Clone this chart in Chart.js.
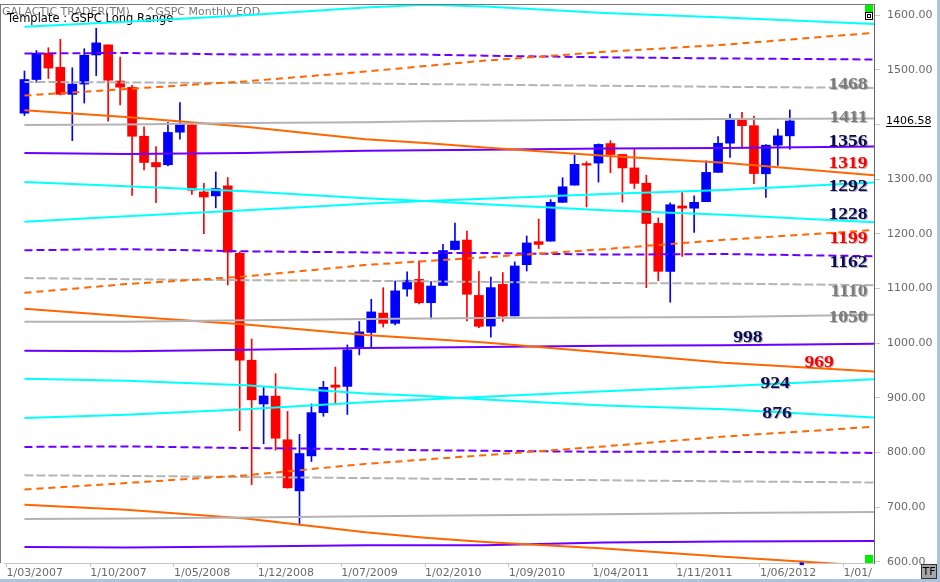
<!DOCTYPE html>
<html>
<head>
<meta charset="utf-8">
<title>^GSPC Monthly - Long Range</title>
<script src="https://cdn.jsdelivr.net/npm/chart.js@4/dist/chart.umd.min.js"></script>
<style>
  html, body { margin: 0; padding: 0; background: #ffffff; }
  canvas { display: block; }
</style>
</head>
<body>
<canvas id="gspcChart" width="940" height="582"></canvas>
<script>
// ^GSPC monthly candles, Apr 2007 .. Aug 2012
// x axis unit = months after 1 Mar 2007, candle sits mid-month
const firstCandleMonth = 1.5;

const opens = [
    1420.8, 1482.4, 1530.6, 1504.7, 1455.2, 1474.0, 1527.3, 1545.8, 1479.6,
    1468.0, 1378.6, 1330.5, 1326.4, 1386.0, 1399.6, 1276.7, 1269.4, 1287.8, 1164.2, 968.7, 888.6,
    903.0, 823.1, 729.6, 793.6, 872.7, 923.3, 920.8, 990.2, 1019.5, 1054.9, 1036.2, 1098.9,
    1116.6, 1073.9, 1105.4, 1171.2, 1188.6, 1087.3, 1031.1, 1107.5, 1049.7, 1143.5, 1185.7, 1186.6,
    1257.6, 1289.1, 1328.6, 1329.5, 1365.2, 1345.2, 1320.6, 1292.6, 1219.1, 1131.2, 1251.0, 1246.9,
    1258.9, 1312.5, 1365.9, 1408.5, 1397.9, 1309.9, 1362.3, 1379.3
];
const highs = [
    1498.0, 1535.6, 1540.6, 1555.9, 1503.9, 1538.7, 1576.1, 1545.8, 1523.6,
    1471.8, 1396.0, 1359.7, 1404.1, 1440.2, 1404.1, 1292.2, 1313.2, 1303.0, 1167.0, 1007.5, 918.9,
    943.9, 875.0, 833.0, 888.7, 930.2, 956.2, 996.7, 1039.5, 1080.2, 1101.4, 1113.7, 1130.4,
    1150.5, 1112.4, 1180.7, 1219.8, 1205.1, 1131.2, 1121.0, 1129.2, 1148.7, 1196.1, 1227.1, 1262.6,
    1302.7, 1344.1, 1332.3, 1364.6, 1370.6, 1345.2, 1356.5, 1307.4, 1229.3, 1256.6, 1277.6, 1269.4,
    1333.5, 1378.0, 1419.2, 1422.4, 1415.3, 1363.5, 1391.7, 1426.7
];
const lows = [
    1416.4, 1476.7, 1484.2, 1454.3, 1370.6, 1439.3, 1489.6, 1406.1, 1435.7,
    1270.1, 1316.8, 1257.0, 1324.4, 1373.1, 1272.0, 1200.4, 1247.5, 1106.4, 839.8, 741.0, 815.7,
    804.2, 734.5, 666.8, 783.3, 866.1, 888.9, 869.3, 978.5, 992.0, 1029.4, 1033.4, 1085.9,
    1071.6, 1044.5, 1105.4, 1170.7, 1040.8, 1028.3, 1010.9, 1039.7, 1049.7, 1131.9, 1173.0, 1186.6,
    1257.6, 1289.1, 1249.1, 1294.7, 1311.8, 1258.1, 1282.9, 1101.5, 1114.2, 1074.8, 1158.7, 1202.4,
    1258.9, 1312.5, 1340.0, 1357.4, 1292.0, 1266.7, 1325.4, 1354.7
];
const closes = [
    1482.4, 1530.6, 1503.4, 1455.3, 1474.0, 1526.8, 1549.4, 1481.1, 1468.4,
    1378.6, 1330.6, 1322.7, 1385.6, 1400.4, 1280.0, 1267.4, 1282.8, 1166.4, 968.8, 896.2, 903.3,
    825.9, 735.1, 797.9, 872.8, 919.1, 919.3, 987.5, 1020.6, 1057.1, 1036.2, 1095.6, 1115.1,
    1073.9, 1104.5, 1169.4, 1186.7, 1089.4, 1030.7, 1101.6, 1049.3, 1141.2, 1183.3, 1180.6, 1257.6,
    1286.1, 1327.2, 1325.8, 1363.6, 1345.2, 1320.6, 1292.3, 1218.9, 1131.4, 1253.3, 1247.0, 1257.6,
    1312.4, 1365.7, 1408.5, 1397.9, 1310.3, 1362.2, 1379.3, 1406.58
];
const lastPrice = 1406.58;

// long range levels, read at these months
const levelMonths = [1.5, 10, 20, 30, 35, 40, 50, 60, 72.6];

const cyanTop        = [1579, 1588, 1600, 1614, 1619, 1616, 1604, 1596, 1584];
const orangeDashTop  = [1453, 1465, 1479, 1497, 1507, 1517, 1533, 1546, 1568];
const purpleDashTop  = [1530, 1531, 1528, 1528, 1528, 1526, 1523, 1521, 1519];
const grayDashTop    = [1478, 1477, 1476, 1475, 1474, 1473, 1471, 1469, 1467];
const grayTop        = [1399, 1400, 1403, 1404, 1406, 1407, 1409, 1410, 1411];
const orangeTop      = [1426, 1414, 1396, 1373, 1366, 1358, 1343, 1330, 1307];
const purpleTop      = [1348, 1346, 1348, 1352, 1353, 1354, 1356, 1357, 1360];
const cyanRiseTop    = [1222, 1232, 1243, 1255, 1260, 1264, 1273, 1280, 1294];
const cyanFallTop    = [1295, 1287, 1278, 1265, 1260, 1254, 1243, 1235, 1221];
const orangeDashMid  = [1092, 1108, 1122, 1143, 1150, 1157, 1172, 1189, 1207];
const purpleDashMid  = [1170, 1172, 1168, 1166, 1165, 1165, 1162, 1163, 1159];
const grayDashMid    = [1119, 1117, 1115, 1114, 1113, 1112, 1110, 1109, 1106];
const grayMid        = [1039, 1039, 1042, 1044, 1045, 1046, 1047, 1048, 1052];
const orangeMid      = [1063, 1049, 1034, 1015, 1008, 1001, 983, 964, 948];
const purpleMid      = [986, 985, 988, 991, 992, 993, 995, 996, 999];
const cyanRiseLow    = [863, 869, 879, 892, 897, 902, 912, 921, 934];
const cyanFallLow    = [935, 931, 923, 908, 903, 897, 886, 879, 864];
const orangeDashLow  = [732, 744, 758, 779, 787, 795, 811, 829, 847];
const purpleDashLow  = [810, 811, 808, 806, 804, 803, 801, 801, 799];
const grayDashLow    = [758, 757, 755, 753, 752, 751, 749, 747, 745];
const grayLow        = [678, 679, 681, 683, 684, 685, 687, 689, 691];
const orangeLow      = [704, 695, 679, 654, 644, 636, 624, 609, 592];
const purpleLow      = [627, 626, 628, 630, 630, 630, 635, 637, 638];

const levelTexts = ['1468', '1411', '1356', '1319', '1292', '1228', '1199', '1162', '1110', '1050', '998', '969', '924', '876'];

const xTickMonths = [0, 7, 14, 21, 28, 35, 42, 49, 56, 63, 70];
const xTickLabels = ['1/03/2007', '1/10/2007', '1/05/2008', '1/12/2008', '1/07/2009', '1/02/2010',
                     '1/09/2010', '1/04/2011', '1/11/2011', '1/06/2012', '1/01/'];
const yTickValues = [600, 700, 800, 900, 1000, 1100, 1200, 1300, 1400, 1500, 1600];

// ---- styles ----
const CYAN = '#00ffff', ORANGE = '#ff6600', PURPLE = '#6a00ff', GRAY = '#b4b4b4';
const UP = '#0000ff', DOWN = '#ff0000';
const NAVY = '#0a0a55', LABEL_GRAY = '#7c7c7c', LABEL_RED = '#ff0000';

const levelStyles = [
    [cyanTop, CYAN, []],
    [orangeDashTop, ORANGE, [7, 5]],
    [purpleDashTop, PURPLE, [8, 4]],
    [grayDashTop, GRAY, [9, 3]],
    [grayTop, GRAY, []],
    [orangeTop, ORANGE, []],
    [purpleTop, PURPLE, []],
    [cyanRiseTop, CYAN, []],
    [cyanFallTop, CYAN, []],
    [orangeDashMid, ORANGE, [7, 5]],
    [purpleDashMid, PURPLE, [8, 4]],
    [grayDashMid, GRAY, [9, 3]],
    [grayMid, GRAY, []],
    [orangeMid, ORANGE, []],
    [purpleMid, PURPLE, []],
    [cyanRiseLow, CYAN, []],
    [cyanFallLow, CYAN, []],
    [orangeDashLow, ORANGE, [7, 5]],
    [purpleDashLow, PURPLE, [8, 4]],
    [grayDashLow, GRAY, [9, 3]],
    [grayLow, GRAY, []],
    [orangeLow, ORANGE, []],
    [purpleLow, PURPLE, []]
];

// where each level number is written: month, value at text middle, colour, alignment
const levelTextSpots = [
    [72.0, 1473, LABEL_GRAY, 'right'],
    [72.0, 1413, LABEL_GRAY, 'right'],
    [72.0, 1369, NAVY, 'right'],
    [72.0, 1328, LABEL_RED, 'right'],
    [72.0, 1287, NAVY, 'right'],
    [72.0, 1235, NAVY, 'right'],
    [72.0, 1191, LABEL_RED, 'right'],
    [72.0, 1147, NAVY, 'right'],
    [72.0, 1095, LABEL_GRAY, 'right'],
    [72.0, 1046, LABEL_GRAY, 'right'],
    [62.0, 1010, NAVY, 'center'],
    [67.96, 965, LABEL_RED, 'center'],
    [64.27, 925, NAVY, 'center'],
    [64.43, 871, NAVY, 'center']
];

const candleX = opens.map((o, i) => firstCandleMonth + i);
const candleColors = opens.map((o, i) => closes[i] >= o ? UP : DOWN);

const datasets = [];

levelStyles.forEach(([values, color, dash]) => {
    datasets.push({
        type: 'line',
        data: values.map((v, i) => ({ x: levelMonths[i], y: v })),
        borderColor: color,
        borderWidth: 2,
        borderDash: dash,
        borderCapStyle: 'butt',
        pointRadius: 0,
        tension: 0,
        fill: false,
        order: 0
    });
});

datasets.push({
    type: 'bar',
    data: candleX.map((x, i) => ({ x: x, y: [opens[i], closes[i]] })),
    backgroundColor: candleColors,
    barThickness: 9,
    grouped: false,
    order: 1
});
datasets.push({
    type: 'bar',
    data: candleX.map((x, i) => ({ x: x, y: [lows[i], highs[i]] })),
    backgroundColor: candleColors,
    barThickness: 1,
    grouped: false,
    order: 2
});
// marker under the next (empty) month
datasets.push({
    type: 'scatter',
    data: [{ x: firstCandleMonth + opens.length, y: 597.6 }],
    pointStyle: 'rect',
    pointRadius: 3,
    backgroundColor: UP,
    borderWidth: 0,
    clip: false,
    order: 0
});

const frame = {
    id: 'frame',
    beforeDraw(chart) {
        const ctx = chart.ctx;
        ctx.save();
        ctx.fillStyle = '#ffffff';
        ctx.fillRect(0, 0, chart.width, chart.height);
        ctx.restore();
    },
    beforeDatasetsDraw(chart) {
        const ctx = chart.ctx;
        ctx.save();
        ctx.font = '11px "DejaVu Sans"';
        ctx.textBaseline = 'alphabetic';
        ctx.fillStyle = '#7a7a7a';
        ctx.fillText('GALACTIC TRADER(TM)', 2, 15);
        ctx.fillText('^GSPC Monthly EOD', 146, 15);
        ctx.fillStyle = '#000000';
        ctx.font = '11.5px "DejaVu Sans"';
        ctx.fillText('Template : GSPC Long Range', 7, 22);
        ctx.restore();
    },
    afterDatasetsDraw(chart) {
        const ctx = chart.ctx;
        const xs = chart.scales.x, ys = chart.scales.y;
        levelTextSpots.forEach(([m, v, color, align], i) => {
            const px = xs.getPixelForValue(m);
            const py = ys.getPixelForValue(v);
            ctx.save();
            ctx.translate(px, py);
            ctx.scale(1.15, 1);
            ctx.font = 'bold 17px "Liberation Serif"';
            ctx.textAlign = align;
            ctx.textBaseline = 'middle';
            ctx.fillStyle = 'rgba(0,0,0,0.28)';
            ctx.fillText(levelTexts[i], 1, 1);
            ctx.fillStyle = color;
            ctx.fillText(levelTexts[i], 0, 0);
            ctx.restore();
        });
    },
    afterDraw(chart) {
        const ctx = chart.ctx;
        const a = chart.chartArea;
        const ys = chart.scales.y;
        ctx.save();
        // plot border, top and left
        ctx.strokeStyle = '#777777';
        ctx.lineWidth = 1;
        ctx.beginPath();
        ctx.moveTo(0, a.top + 0.5);
        ctx.lineTo(a.right, a.top + 0.5);
        ctx.moveTo(0.5, a.top);
        ctx.lineTo(0.5, a.bottom);
        ctx.stroke();

        // last price on the axis
        const py = Math.round(ys.getPixelForValue(lastPrice));
        ctx.font = '11px "DejaVu Sans"';
        ctx.textBaseline = 'middle';
        ctx.fillStyle = '#000000';
        ctx.fillText(lastPrice.toFixed(2), a.right + 12, py);
        ctx.fillRect(a.right + 12, py + 5, 45, 1);

        // corner widgets
        ctx.fillStyle = '#00ee00';
        ctx.fillRect(a.right - 9, a.top + 1, 8, 7);
        ctx.fillRect(a.right - 9, a.bottom - 8, 8, 8);
        ctx.fillStyle = '#000000';
        ctx.fillRect(a.right - 9, a.top + 8, 8, 8);
        ctx.fillStyle = '#ffffff';
        ctx.fillRect(a.right - 8, a.top + 9, 6, 6);
        ctx.fillStyle = '#000000';
        ctx.fillRect(a.right - 7, a.top + 10, 4, 4);
        ctx.fillStyle = '#ffffff';
        ctx.fillRect(a.right - 6, a.top + 11, 2, 2);

        // window edges
        ctx.fillStyle = '#a8c4e0';
        ctx.fillRect(937, 0, 3, chart.height);
        ctx.fillRect(0, 579, chart.width, 3);

        // TF box
        ctx.fillStyle = '#a6a6a6';
        ctx.fillRect(921, 564, 16, 15);
        ctx.strokeStyle = '#333333';
        ctx.strokeRect(921.5, 564.5, 15, 14);
        ctx.fillStyle = '#000000';
        ctx.font = '11px "DejaVu Sans"';
        ctx.textAlign = 'center';
        ctx.fillText('TF', 929, 572);
        ctx.restore();
    }
};

new Chart(document.getElementById('gspcChart'), {
    type: 'bar',
    data: { datasets: datasets },
    options: {
        responsive: false,
        animation: false,
        events: [],
        devicePixelRatio: 1,
        layout: { padding: { left: 1, top: 2, right: 0, bottom: 0 } },
        plugins: {
            legend: { display: false },
            tooltip: { enabled: false }
        },
        scales: {
            x: {
                type: 'linear',
                position: 'bottom',
                min: -0.21,
                max: 72.54,
                offset: false,
                grid: {
                    offset: false,
                    drawOnChartArea: false,
                    drawTicks: true,
                    tickLength: 4,
                    color: '#c4c4c4'
                },
                border: { color: '#c4c4c4' },
                ticks: {
                    autoSkip: false,
                    maxRotation: 0,
                    minRotation: 0,
                    align: 'start',
                    padding: 0,
                    color: '#6a6a6a',
                    font: { family: 'DejaVu Sans', size: 11 },
                    callback: (value, index) => xTickLabels[index]
                },
                afterBuildTicks: (scale) => {
                    scale.ticks = xTickMonths.map(m => ({ value: m }));
                },
                afterFit: (scale) => {
                    scale.height = 19;
                    scale.paddingLeft = 0;
                    scale.paddingRight = 0;
                }
            },
            y: {
                type: 'linear',
                position: 'right',
                min: 597.6,
                max: 1620.6,
                grid: {
                    drawOnChartArea: false,
                    drawTicks: true,
                    tickLength: 6,
                    color: '#c8c8c8'
                },
                border: { color: '#666666' },
                ticks: {
                    padding: 7,
                    color: '#6a6a6a',
                    font: { family: 'DejaVu Sans', size: 11 },
                    callback: (value) => value === 1400 ? '' : value.toFixed(2)
                },
                afterBuildTicks: (scale) => {
                    scale.ticks = yTickValues.map(v => ({ value: v }));
                },
                afterFit: (scale) => {
                    scale.width = 66;
                    scale.paddingTop = 0;
                    scale.paddingBottom = 0;
                }
            }
        }
    },
    plugins: [frame]
});
</script>
</body>
</html>
